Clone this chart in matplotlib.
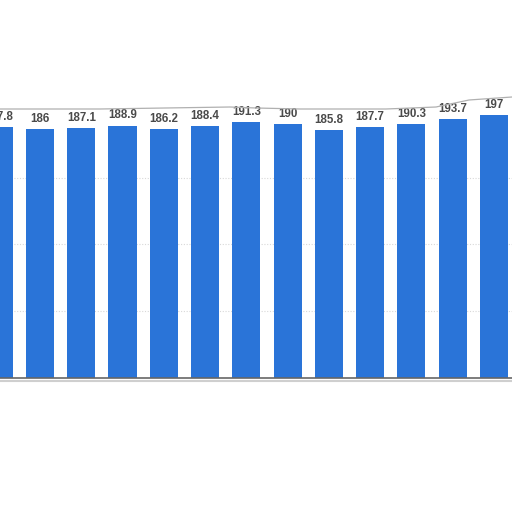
import matplotlib.pyplot as plt
from matplotlib.lines import Line2D

# values, left to right (first one is cut off by the crop)
values = [187.8, 186, 187.1, 188.9, 186.2, 188.4, 191.3, 190, 185.8, 187.7, 190.3, 193.7, 197]
labels = ["187.8", "186", "187.1", "188.9", "186.2", "188.4", "191.3", "190",
          "185.8", "187.7", "190.3", "193.7", "197"]
grid_ticks = [50, 100, 150]

bar_color = "#2a74d8"

fig = plt.figure(figsize=(5.12, 5.12), dpi=100)
ax = fig.add_axes([0, 134 / 512, 1, 318 / 512])

x = list(range(len(values)))
ax.bar(x, values, width=0.68, color=bar_color, zorder=2)

for xi, v, lab in zip(x, values, labels):
    ax.annotate(lab, (xi, v), xytext=(0, 3), textcoords="offset points",
                ha="center", va="bottom", fontsize=8.3, fontweight="bold",
                color="#4a4a4a", family="Liberation Sans", annotation_clip=False)

ax.set_xlim(0.031, 12.437)
ax.set_ylim(0, 238)
ax.set_yticks(grid_ticks)
ax.yaxis.grid(True, linestyle=(0, (1, 1.5)), color="#d8d8d8", linewidth=0.8, zorder=0)
ax.set_axisbelow(True)
ax.tick_params(left=False, bottom=False, labelleft=False, labelbottom=False)
for s in ["top", "left", "right"]:
    ax.spines[s].set_visible(False)
ax.spines["bottom"].set_color("#666666")
ax.spines["bottom"].set_linewidth(1.2)

# soft shadow under the baseline
fig.add_artist(Line2D([0, 1], [1 - 381 / 512, 1 - 381 / 512], color="#cfcfcf",
                      linewidth=1.5, transform=fig.transFigure))

# torn-edge line across the top of the screenshot
edge_x = [0, 100, 230, 256, 300, 386, 436, 469, 512]
edge_y = [109, 109, 107, 108, 109, 109, 107, 100, 97]
fig.add_artist(Line2D([p / 512 for p in edge_x], [1 - p / 512 for p in edge_y],
                      color="#e6e6e6", linewidth=4, transform=fig.transFigure, zorder=0))
fig.add_artist(Line2D([p / 512 for p in edge_x], [1 - p / 512 for p in edge_y],
                      color="#b0b0b0", linewidth=0.9, transform=fig.transFigure))

fig.savefig("out.png", dpi=100)
